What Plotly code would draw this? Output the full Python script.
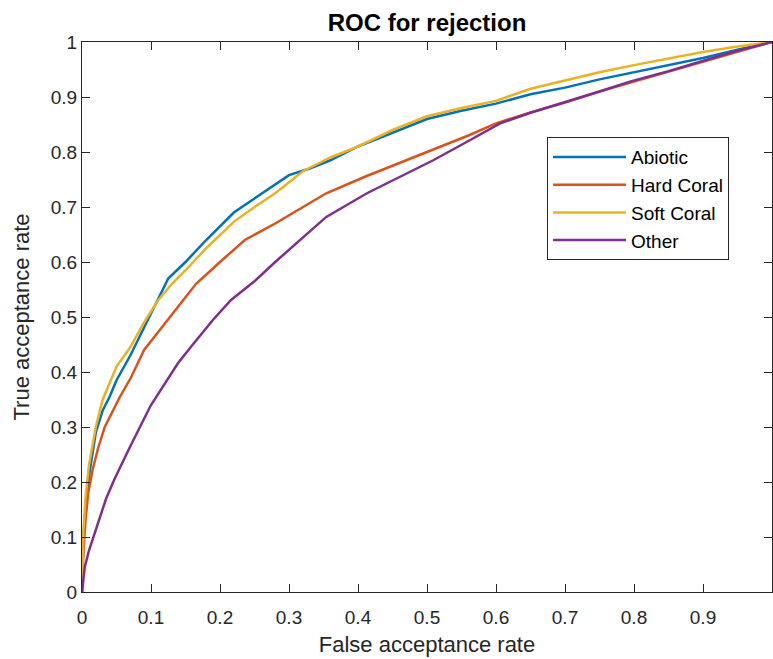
import plotly.graph_objects as go

# ROC curves
abiotic_x = [0, 0.002, 0.005, 0.01, 0.02, 0.03, 0.04, 0.05, 0.07, 0.09, 0.11, 0.125, 0.15, 0.18,
             0.22, 0.25, 0.28, 0.30, 0.33, 0.36, 0.40, 0.45, 0.50, 0.55, 0.60, 0.65, 0.70, 0.75,
             0.80, 0.85, 0.90, 0.95, 1.0]
abiotic_y = [0, 0.10, 0.15, 0.21, 0.29, 0.33, 0.355, 0.385, 0.43, 0.48, 0.53, 0.57, 0.60, 0.64,
             0.69, 0.715, 0.74, 0.758, 0.77, 0.785, 0.81, 0.835, 0.86, 0.875, 0.888, 0.905, 0.917,
             0.932, 0.945, 0.958, 0.971, 0.986, 1.0]

hard_x = [0, 0.002, 0.005, 0.009, 0.015, 0.023, 0.033, 0.043, 0.055, 0.071, 0.09, 0.115, 0.14,
          0.165, 0.2, 0.236, 0.28, 0.32, 0.354, 0.41, 0.46, 0.51, 0.56, 0.6, 0.65, 0.7, 0.75,
          0.8, 0.85, 0.9, 0.95, 1.0]
hard_y = [0, 0.07, 0.13, 0.18, 0.22, 0.26, 0.30, 0.325, 0.355, 0.39, 0.44, 0.48, 0.52,
          0.56, 0.60, 0.64, 0.67, 0.70, 0.725, 0.755, 0.78, 0.805, 0.83, 0.852, 0.872, 0.89,
          0.91, 0.928, 0.946, 0.964, 0.982, 1.0]

soft_x = [0, 0.002, 0.005, 0.01, 0.02, 0.03, 0.04, 0.05, 0.07, 0.09, 0.11, 0.13, 0.15, 0.18,
          0.22, 0.25, 0.28, 0.32, 0.36, 0.40, 0.45, 0.50, 0.55, 0.60, 0.65, 0.70, 0.75, 0.80,
          0.85, 0.90, 0.95, 1.0]
soft_y = [0, 0.11, 0.17, 0.23, 0.30, 0.35, 0.38, 0.41, 0.445, 0.49, 0.53, 0.56, 0.585, 0.625,
          0.673, 0.70, 0.725, 0.765, 0.79, 0.81, 0.84, 0.865, 0.88, 0.893, 0.915, 0.93, 0.945,
          0.958, 0.97, 0.982, 0.992, 1.0]

other_x = [0, 0.004, 0.01, 0.023, 0.035, 0.047, 0.07, 0.1, 0.139, 0.158, 0.19, 0.216, 0.25, 0.28,
           0.316, 0.354, 0.413, 0.46, 0.509, 0.56, 0.606, 0.649, 0.7, 0.75, 0.794, 0.85, 0.914,
           0.95, 1.0]
other_y = [0, 0.045, 0.075, 0.125, 0.17, 0.205, 0.265, 0.34, 0.416, 0.446, 0.495, 0.531, 0.565,
           0.60, 0.64, 0.682, 0.725, 0.755, 0.785, 0.82, 0.852, 0.871, 0.89, 0.91, 0.928, 0.947,
           0.971, 0.984, 1.0]

tick_vals = [0, 0.1, 0.2, 0.3, 0.4, 0.5, 0.6, 0.7, 0.8, 0.9, 1]
tick_text = ["0", "0.1", "0.2", "0.3", "0.4", "0.5", "0.6", "0.7", "0.8", "0.9", "1"]

series = [
    ("Abiotic", abiotic_x, abiotic_y, "#0072BD"),
    ("Hard Coral", hard_x, hard_y, "#D95319"),
    ("Soft Coral", soft_x, soft_y, "#EDB120"),
    ("Other", other_x, other_y, "#7E2F8E"),
]

fig = go.Figure()
for name, xs, ys, color in series:
    fig.add_trace(go.Scatter(x=xs, y=ys, mode="lines", name=name,
                             line=dict(color=color, width=2.5)))

axis_style = dict(
    range=[0, 1],
    tickvals=tick_vals,
    ticktext=tick_text,
    showgrid=False,
    zeroline=False,
    showline=True,
    linecolor="#262626",
    linewidth=1,
    mirror="ticks",
    ticks="inside",
    ticklen=8,
    tickcolor="#262626",
    tickfont=dict(size=19, color="#262626"),
    automargin=False,
)

fig.update_layout(
    width=773,
    height=659,
    margin=dict(l=82, r=1, t=42, b=67),
    paper_bgcolor="white",
    plot_bgcolor="white",
    font=dict(family="Liberation Sans, Arial, sans-serif", color="#262626"),
    title=dict(text="<b>ROC for rejection</b>", x=0.5, xref="paper", xanchor="center",
               y=0.965, yanchor="middle", yref="container",
               font=dict(size=24, color="#000000")),
    xaxis=dict(axis_style, title=dict(text="False acceptance rate", font=dict(size=22),
                                      standoff=9), ticklabelstandoff=8),
    yaxis=dict(axis_style, title=dict(text="True acceptance rate", font=dict(size=22),
                                      standoff=15), ticklabelstandoff=0),
    legend=dict(x=0.674, y=0.827, xanchor="left", yanchor="top",
                bgcolor="white", bordercolor="#262626", borderwidth=1,
                font=dict(size=19, color="#000000"), itemwidth=73,
                tracegroupgap=0),
)

# drop the page's default body margin so the figure sits at the window origin
fig.write_html("out.html", config={"displayModeBar": False},
               post_script="document.body.style.margin='0';")
